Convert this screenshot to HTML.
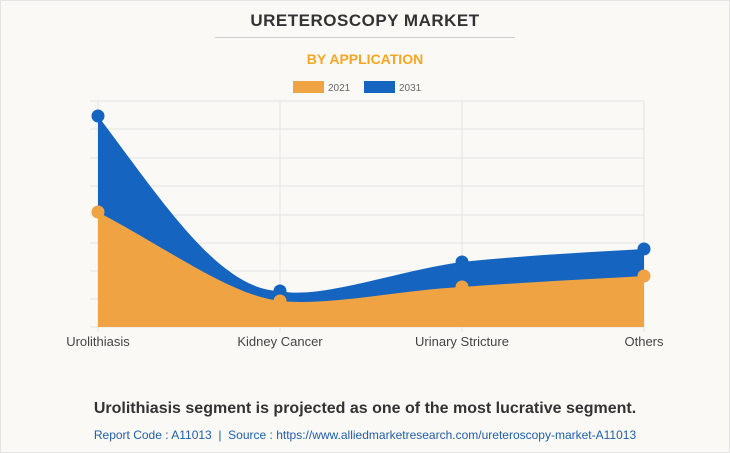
<!DOCTYPE html>
<html><head><style>
body{margin:0;background:#fff;}
.wrap{position:relative;box-sizing:border-box;width:730px;height:453px;border:1px solid #e4e4e4;background:#faf9f5;font-family:"Liberation Sans",sans-serif;overflow:hidden}
.t{position:absolute;left:-1px;width:730px;text-align:center}
svg{position:absolute;left:-1px;top:-1px}
</style></head><body><div class="wrap">
<div class="t" style="top:10px;font-size:17px;font-weight:bold;color:#333;letter-spacing:0.5px">URETEROSCOPY MARKET</div>
<div style="position:absolute;left:214px;top:36px;width:300px;height:1px;background:#ccc"></div>
<div class="t" style="top:50px;font-size:14px;font-weight:bold;color:#f5a623">BY APPLICATION</div>
<svg width="730" height="453">
<rect x="293" y="81" width="31" height="12" fill="#f0a342"/>
<text x="328" y="91" font-size="10" fill="#666" font-family="Liberation Sans">2021</text>
<rect x="364" y="81" width="31" height="12" fill="#1565c0"/>
<text x="399" y="91" font-size="10" fill="#666" font-family="Liberation Sans">2031</text>
<g stroke="#e3e3e3" stroke-width="1">
<line x1="90" y1="101" x2="644" y2="101"/><line x1="90" y1="129" x2="644" y2="129"/>
<line x1="90" y1="158" x2="644" y2="158"/><line x1="90" y1="186" x2="644" y2="186"/>
<line x1="90" y1="215" x2="644" y2="215"/><line x1="90" y1="243" x2="644" y2="243"/>
<line x1="90" y1="271" x2="644" y2="271"/><line x1="90" y1="299" x2="644" y2="299"/>
<line x1="90" y1="327" x2="644" y2="327"/>
<line x1="98" y1="101" x2="98" y2="332"/><line x1="280" y1="101" x2="280" y2="332"/>
<line x1="462" y1="101" x2="462" y2="332"/><line x1="644" y1="101" x2="644" y2="332"/>
</g>
<path d="M98,116 C165,205 220,290 280,291 C320,300 400,270 462,262 C530,255 590,252 644,249 L644,327 L98,327 Z" fill="#1565c0"/>
<path d="M98,212 C170,250 230,295 280,301 C330,306 400,290 462,287 C530,282 590,279 644,276 L644,327 L98,327 Z" fill="#f0a342"/>
<g fill="#1565c0"><circle cx="98" cy="116" r="6.5"/><circle cx="280" cy="291" r="6.5"/><circle cx="462" cy="262" r="6.5"/><circle cx="644" cy="249" r="6.5"/></g>
<g fill="#f0a342"><circle cx="98" cy="212" r="6.5"/><circle cx="280" cy="301" r="6.5"/><circle cx="462" cy="287" r="6.5"/><circle cx="644" cy="276" r="6.5"/></g>
<g font-size="13" fill="#444" font-family="Liberation Sans" text-anchor="middle">
<text x="98" y="346">Urolithiasis</text><text x="280" y="346">Kidney Cancer</text>
<text x="462" y="346">Urinary Stricture</text><text x="644" y="346">Others</text></g>
</svg>
<div class="t" style="top:399px;font-size:16px;font-weight:bold;color:#333">Urolithiasis segment is projected as one of the most lucrative segment.</div>
<div class="t" style="top:427px;font-size:12px;color:#1f5fa8">Report Code : A11013 &nbsp;|&nbsp; Source : https://www.alliedmarketresearch.com/ureteroscopy-market-A11013</div>
</div></body></html>
